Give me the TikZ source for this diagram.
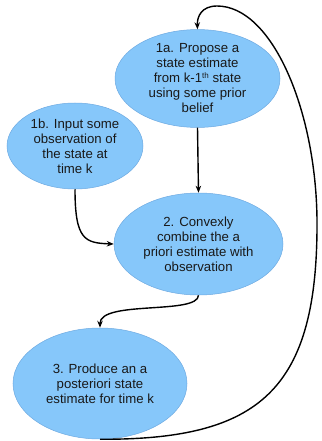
\documentclass[tikz,border=0pt]{standalone}
\usepackage{fontspec}
\setmainfont{Liberation Sans}
\usetikzlibrary{shapes.geometric,arrows.meta}
\definecolor{bubble}{RGB}{134,199,250}
\definecolor{bubbleline}{RGB}{110,170,225}
\definecolor{txt}{RGB}{25,25,25}
\tikzset{
  bubble/.style={ellipse, fill=bubble, draw=bubbleline, line width=0.5pt, inner sep=0pt, align=center, text=txt,
    font=\fontsize{13.2}{15}\selectfont},
  flow/.style={line width=1.4pt, -{Stealth[length=7pt,width=5.5pt]}}
}
\newcommand{\supsmall}[1]{\raisebox{4.5pt}{\fontsize{8}{8}\selectfont #1}}
\begin{document}
\begin{tikzpicture}[x=1pt,y=-1pt]
\useasboundingbox (0,0) rectangle (321,441);
\node[bubble, minimum width=165pt, minimum height=93pt] (a) at (197.5,78.5)
  {1a. Propose a\\state estimate\\from k-1\supsmall{th} state\\using some prior\\belief};
\node[bubble, minimum width=136pt, minimum height=86pt] (b) at (75,146)
  {1b. Input some\\observation of\\the state at\\time k};
\node[bubble, minimum width=169pt, minimum height=102pt] (c) at (198.5,244)
  {2. Convexly\\combine the a\\priori estimate with\\observation};
\node[bubble, minimum width=174pt, minimum height=111pt] (d) at (100,383.5)
  {3. Produce an a\\posteriori state\\estimate for time k};
\coordinate (r) at (317,220);
\coordinate (t) at (217,6);
\draw[flow] (a.south) -- (c.north);
\draw[flow] (b.south) .. controls (75,240) and (85,243) .. (c.west);
\draw[flow] (c.south) .. controls (198,315) and (100,300) .. (d.north);
\draw[flow] (d.south) .. controls (260,440) and (318,390) .. (r)
  .. controls (316,110) and (272,6) .. (t)
  .. controls (202,6) and (197,16) .. (a.north);
\end{tikzpicture}
\end{document}
